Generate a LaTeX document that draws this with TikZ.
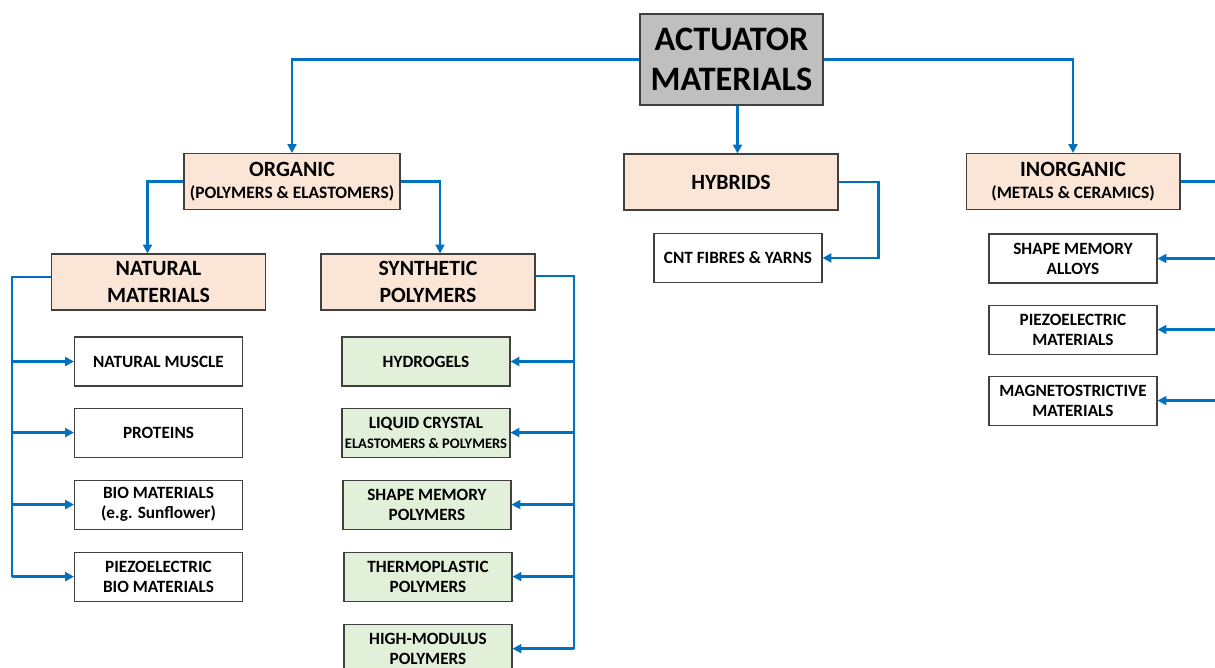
\documentclass[tikz,border=0pt]{standalone}
\usepackage{fontspec}
\setmainfont{Carlito}
\usepackage{xcolor}
\usetikzlibrary{arrows.meta, positioning, calc}

\definecolor{linkblue}{HTML}{0070C0}
\definecolor{peach}{HTML}{FBE5D6}
\definecolor{leafgreen}{HTML}{E2F0D9}
\definecolor{rootgray}{HTML}{BFBFBF}
\definecolor{edgegray}{HTML}{404040}
\newcommand{\subfont}{\fontsize{9.9}{11}\selectfont}

\begin{document}
\begin{tikzpicture}[
    x=0.02cm, y=-0.02cm,
    root/.style={rectangle, draw=edgegray, line width=0.7pt, minimum width=3.66cm, minimum height=1.82cm, align=center, fill=rootgray, font=\bfseries\fontsize{19.5}{22.8}\selectfont},
    family/.style={rectangle, draw=edgegray, line width=0.6pt, minimum width=4.28cm, minimum height=1.12cm, align=center, fill=peach, font=\bfseries\fontsize{12.4}{15}\selectfont},
    leaf/.style={rectangle, draw=edgegray, line width=0.6pt, minimum width=3.36cm, minimum height=0.98cm, align=center, fill=white, inner sep=1pt, font=\bfseries\fontsize{9.8}{11.4}\selectfont},
    polyleaf/.style={leaf, fill=leafgreen},
    arrow/.style={-{Triangle[length=5pt, width=5pt]}, line width=1.4pt, color=linkblue},
    link/.style={line width=1.4pt, color=linkblue}
]
    \useasboundingbox (0,0) rectangle (1215,668);
    \clip (0,0) rectangle (1215,668);

    % --- Top level ---
    \node[root] (actuator) at (731.5,59.5) {ACTUATOR\\MATERIALS};

    % --- Second level ---
    \node[family] (organic) at (292,181.5) {ORGANIC\\[-2.5pt]{\subfont (POLYMERS \& ELASTOMERS)}};
    \node[family] (hybrids) at (731,182) {HYBRIDS};
    \node[family] (inorganic) at (1073,181.5) {INORGANIC\\[-2.5pt]{\subfont (METALS \& CERAMICS)}};

    % --- Organic groups ---
    \node[family] (natural) at (158.5,282) {NATURAL\\MATERIALS};
    \node[family] (synthetic) at (428,282) {SYNTHETIC\\POLYMERS};

    % Natural materials
    \node[leaf] (muscle) at (158.5,361.5) {NATURAL MUSCLE};
    \node[leaf, below=0.42cm of muscle] (proteins) {PROTEINS};
    \node[leaf, below=0.44cm of proteins] (bio) {BIO MATERIALS\\(e.g. Sunflower)};
    \node[leaf, below=0.44cm of bio] (piezo-bio) {PIEZOELECTRIC\\BIO MATERIALS};

    % Synthetic polymers
    \node[polyleaf] (hydrogels) at (426,361.5) {HYDROGELS};
    \node[polyleaf, below=0.42cm of hydrogels] (lce) {LIQUID CRYSTAL\\{\fontsize{8.3}{10}\selectfont ELASTOMERS \& POLYMERS}};
    \node[polyleaf, below=0.44cm of lce, xshift=0.02cm] (smp) {SHAPE MEMORY\\POLYMERS};
    \node[polyleaf, below=0.44cm of smp, xshift=0.02cm] (thermo) {THERMOPLASTIC\\POLYMERS};
    \node[polyleaf, below=0.44cm of thermo] (hmp) {HIGH-MODULUS\\POLYMERS};

    % Hybrids
    \node[leaf] (cnt) at (738,258) {CNT FIBRES \& YARNS};

    % Inorganic
    \node[leaf] (sma) at (1073,258.5) {SHAPE MEMORY\\ALLOYS};
    \node[leaf, below=0.42cm of sma] (piezo-mat) {PIEZOELECTRIC\\MATERIALS};
    \node[leaf, below=0.42cm of piezo-mat] (magneto) {MAGNETOSTRICTIVE\\MATERIALS};

    % --- Connections ---
    \draw[arrow] (actuator.west) -| (organic.north);
    \draw[arrow] (actuator.east) -| (inorganic.north);
    \draw[arrow] ([xshift=0.12cm]actuator.south) -- ([xshift=0.12cm]actuator.south |- hybrids.north);

    \draw[arrow] (organic.west) -| ([xshift=-0.22cm]natural.north);
    \draw[arrow] (organic.east) -| ([xshift=0.24cm]synthetic.north);

    % Hybrids branch
    \draw[arrow] (hybrids.east) -- ++(40,0) |- (cnt.east);

    % Natural materials bus
    \coordinate (nat-bus) at (12,277);
    \draw[link] (natural.west |- nat-bus) -- (nat-bus) -- (nat-bus |- piezo-bio);
    \draw[arrow] (nat-bus |- muscle) -- (muscle.west);
    \draw[arrow] (nat-bus |- proteins) -- (proteins.west);
    \draw[arrow] (nat-bus |- bio) -- (bio.west);
    \draw[arrow] (nat-bus |- piezo-bio) -- (piezo-bio.west);

    % Synthetic polymers bus
    \coordinate (syn-bus) at (574,276);
    \draw[link] (synthetic.east |- syn-bus) -- (syn-bus) -- (syn-bus |- hmp);
    \draw[arrow] (syn-bus |- hydrogels) -- (hydrogels.east);
    \draw[arrow] (syn-bus |- lce) -- (lce.east);
    \draw[arrow] (syn-bus |- smp) -- (smp.east);
    \draw[arrow] (syn-bus |- thermo) -- (thermo.east);
    \draw[arrow] (syn-bus |- hmp) -- (hmp.east);

    % Inorganic bus (runs past the right edge)
    \coordinate (inorg-bus) at (1240,181.5);
    \draw[link] (inorganic.east) -- (inorg-bus) -- (inorg-bus |- magneto);
    \draw[arrow] (inorg-bus |- sma) -- (sma.east);
    \draw[arrow] (inorg-bus |- piezo-mat) -- (piezo-mat.east);
    \draw[arrow] (inorg-bus |- magneto) -- (magneto.east);

\end{tikzpicture}
\end{document}
